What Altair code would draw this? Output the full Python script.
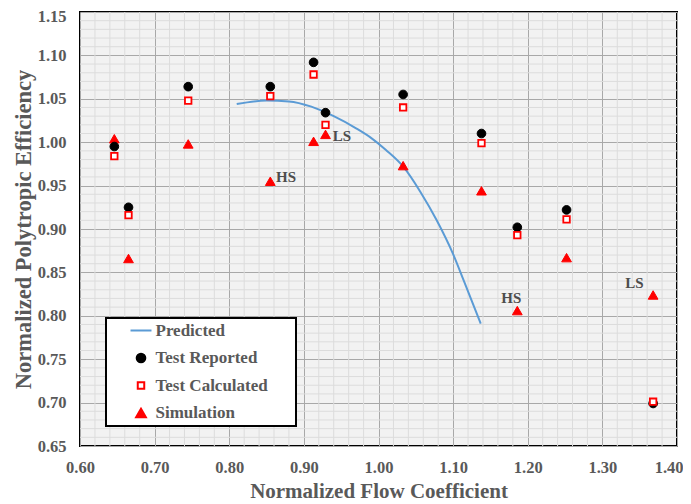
import altair as alt
import pandas as pd

# ---- data ----
NB = "\u00a0"
ZW = "\u200b"
series_names = ["Predicted", "Test Reported", "Test Calculated" + NB * 6 + ZW, "Simulation"]

test_x = [0.646, 0.665, 0.745, 0.855, 0.913, 0.929, 1.033, 1.138, 1.186, 1.252, 1.368]
reported_y = [0.995, 0.925, 1.064, 1.064, 1.092, 1.034, 1.055, 1.010, 0.902, 0.922, 0.699]
calculated_y = [0.984, 0.916, 1.048, 1.053, 1.078, 1.020, 1.040, 0.999, 0.893, 0.911, 0.701]
simulation_y = [1.004, 0.866, 0.998, 0.955, 1.001, 1.009, 0.973, 0.944, 0.806, 0.867, 0.824]

pred_x = [0.81, 0.85, 0.88, 0.91, 0.94, 0.97, 0.99, 1.01, 1.034, 1.056, 1.078, 1.10, 1.114, 1.137]
pred_y = [1.044, 1.048, 1.047, 1.041, 1.030, 1.016, 1.005, 0.991, 0.971, 0.943, 0.910, 0.871, 0.841, 0.791]

note_text = ["HS", "LS", "HS", "LS"]
note_x = [0.876, 0.951, 1.178, 1.343]
note_y = [0.960, 1.007, 0.821, 0.838]

x_ticks = [0.60, 0.70, 0.80, 0.90, 1.00, 1.10, 1.20, 1.30, 1.40]
y_ticks = [0.65, 0.70, 0.75, 0.80, 0.85, 0.90, 0.95, 1.00, 1.05, 1.10, 1.15]

# minor grid positions (between major ticks)
x_minor = [round(0.60 + 0.02 * i, 2) for i in range(41) if i % 5 != 0]
y_minor = [round(0.65 + 0.01 * i, 2) for i in range(51) if i % 5 != 0]

# ---- tables ----
pred_df = pd.DataFrame({"x": pred_x, "y": pred_y, "series": series_names[0]})
rep_df = pd.DataFrame({"x": test_x, "y": reported_y, "series": series_names[1]})
calc_df = pd.DataFrame({"x": test_x, "y": calculated_y, "series": series_names[2]})
sim_df = pd.DataFrame({"x": test_x, "y": simulation_y, "series": series_names[3]})
note_df = pd.DataFrame({"x": note_x, "y": note_y, "t": note_text})
xminor_df = pd.DataFrame({"x": x_minor})
yminor_df = pd.DataFrame({"y": y_minor})

FONT = "Liberation Serif"
GREY = "#595959"

xscale = alt.Scale(domain=[0.60, 1.40], nice=False, zero=False)
yscale = alt.Scale(domain=[0.65, 1.15], nice=False, zero=False)

shape_scale = alt.Scale(domain=series_names, range=["stroke", "circle", "square", "triangle-up"])
fill_scale = alt.Scale(domain=series_names, range=["transparent", "black", "white", "red"])
stroke_scale = alt.Scale(domain=series_names, range=["#5b9bd5", "black", "red", "red"])
size_scale = alt.Scale(type="ordinal", domain=series_names, range=[440, 75, 42, 95])

leg = alt.Legend(
    title=None,
    orient="none",
    legendX=26,
    legendY=306,
    direction="vertical",
    fillColor="white",
    strokeColor="black",
    padding=2,
    rowPadding=6.5,
    clipHeight=21,
    symbolOffset=21.5,
    labelOffset=3,
)

x_axis = alt.Axis(
    values=x_ticks, format=".2f", title="Normalized Flow Coefficient",
    labelPadding=13, titlePadding=4.5, labelFlush=False, titleFontSize=21,
    labelAlign={"condition": {"test": "datum.value >= 1.399", "value": "right"}, "value": "center"},
    labelOffset={"condition": {"test": "datum.value >= 1.399", "value": 6}, "value": 0},
)
y_axis = alt.Axis(
    values=y_ticks, format=".2f", title="Normalized Polytropic Efficiency",
    labelPadding=14, titlePadding=2, labelFlush=False, titleFontSize=22.5,
    labelOffset={"condition": {"test": "datum.value >= 1.149", "value": 4.5}, "value": 0},
)

X = alt.X("x:Q", scale=xscale, axis=x_axis)
Y = alt.Y("y:Q", scale=yscale, axis=y_axis)

xminor = alt.Chart(xminor_df).mark_rule(color="#dcdcdc", strokeWidth=1).encode(x=X)
yminor = alt.Chart(yminor_df).mark_rule(color="#dcdcdc", strokeWidth=1).encode(y=Y)

line = alt.Chart(pred_df).mark_line(strokeWidth=2, interpolate="monotone").encode(
    x=X, y=Y,
    stroke=alt.Stroke("series:N", scale=stroke_scale, legend=leg),
)


def pts(df, sw):
    return alt.Chart(df).mark_point(filled=True, opacity=1, strokeWidth=sw).encode(
        x=X, y=Y,
        shape=alt.Shape("series:N", scale=shape_scale, legend=leg),
        fill=alt.Fill("series:N", scale=fill_scale, legend=leg),
        stroke=alt.Stroke("series:N", scale=stroke_scale, legend=leg),
        size=alt.Size("series:N", scale=size_scale, legend=leg),
    )


sim_layer = pts(sim_df, 1)
rep_layer = pts(rep_df, 1)
calc_layer = pts(calc_df, 1.8)

notes = alt.Chart(note_df).mark_text(
    font=FONT, fontWeight="bold", fontSize=15, color="#4d4d4d", align="center", baseline="middle"
).encode(x=X, y=Y, text="t:N")

chart = alt.layer(xminor, yminor, line, sim_layer, rep_layer, calc_layer, notes).properties(
    width=597,
    height=434,
    autosize=alt.AutoSizeParams(type="none"),
    padding={"left": 72, "top": 4, "right": 6, "bottom": 58},
).configure_view(
    fill="#f2f2f2", stroke="black", strokeWidth=2
).configure_axis(
    labelFont=FONT, labelFontWeight="bold", labelFontSize=16.5, labelColor=GREY,
    titleFont=FONT, titleFontWeight="bold", titleColor=GREY,
    gridColor="#a8a8a8", gridWidth=1, domain=False, ticks=False,
).configure_legend(
    labelFont=FONT, labelFontWeight="bold", labelFontSize=17, labelColor=GREY,
    strokeWidth=2, symbolStrokeWidth=2, symbolOpacity=1,
)

chart.save("out.html", embed_options={"renderer": "svg", "actions": False})
